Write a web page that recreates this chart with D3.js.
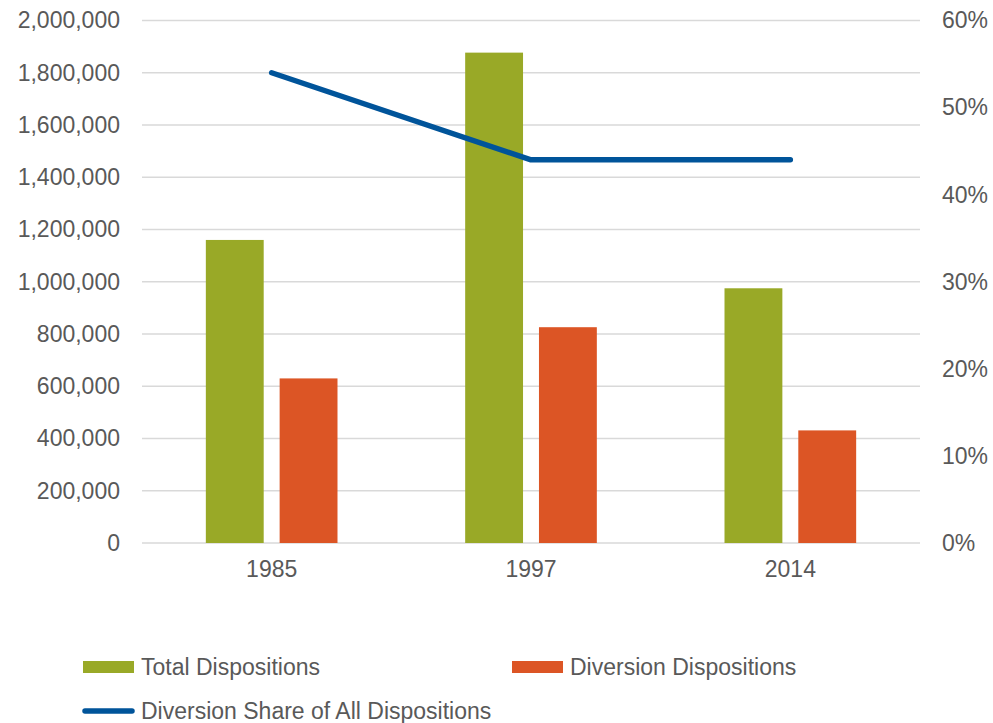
<!DOCTYPE html>
<html>
<head>
<meta charset="utf-8">
<script src="https://cdn.jsdelivr.net/npm/d3@7"></script>
<style>
  body { margin: 0; background: #fff; }
  text { font-family: "Liberation Sans", Arial, sans-serif; fill: #595959; }
</style>
</head>
<body>
<svg id="chart"></svg>
<script>
const years = ["1985", "1997", "2014"];
const totalDispositions = [1160000, 1877000, 975000];
const diversionDispositions = [630000, 826000, 431000];
const diversionShare = [0.54, 0.44, 0.44];
const leftTicks = [0, 200000, 400000, 600000, 800000, 1000000, 1200000, 1400000, 1600000, 1800000, 2000000];
const rightTicks = [0, 0.1, 0.2, 0.3, 0.4, 0.5, 0.6];
const seriesNames = ["Total Dispositions", "Diversion Dispositions", "Diversion Share of All Dispositions"];

const width = 993, height = 723;
const plotLeft = 142, plotRight = 920, plotTop = 20.5, plotBottom = 543;
const fontSize = 23;
const colors = ["#99a927", "#dc5525", "#00549a"];

const svg = d3.select("#chart").attr("width", width).attr("height", height);

const x0 = d3.scaleBand().domain(years).range([plotLeft, plotRight]);
const x1 = d3.scaleBand().domain([0, 1]).range([0, x0.bandwidth()])
  .paddingInner(0.216).paddingOuter(0.865);
const y = d3.scaleLinear().domain([0, 2000000]).range([plotBottom, plotTop]);
const y2 = d3.scaleLinear().domain([0, 0.6]).range([plotBottom, plotTop]);

// gridlines
svg.append("g")
  .selectAll("line")
  .data(leftTicks).enter()
  .append("line")
    .attr("x1", plotLeft).attr("x2", plotRight)
    .attr("y1", d => y(d)).attr("y2", d => y(d))
    .attr("stroke", "#d9d9d9")
    .attr("stroke-width", 1.3);

function styleAxis(g) {
  g.select(".domain").remove();
  g.selectAll("text")
    .style("font-size", fontSize + "px")
    .style("font-family", "'Liberation Sans', Arial, sans-serif")
    .attr("fill", "#595959");
}

// left axis
svg.append("g")
  .attr("transform", `translate(${plotLeft},0)`)
  .call(d3.axisLeft(y).tickValues(leftTicks).tickFormat(d3.format(",")).tickSize(0).tickPadding(22))
  .call(styleAxis);

// right axis
svg.append("g")
  .attr("transform", `translate(${plotRight},0)`)
  .call(d3.axisRight(y2).tickValues(rightTicks).tickFormat(d3.format(".0%")).tickSize(0).tickPadding(22))
  .call(styleAxis);

// x axis
svg.append("g")
  .attr("transform", `translate(0,${plotBottom})`)
  .call(d3.axisBottom(x0).tickSize(0).tickPadding(18))
  .call(styleAxis);

// bars
const barData = years.map((yr, i) => ({ year: yr, values: [totalDispositions[i], diversionDispositions[i]] }));
const groups = svg.append("g").selectAll("g")
  .data(barData).enter()
  .append("g")
    .attr("transform", d => `translate(${x0(d.year)},0)`);
groups.selectAll("rect")
  .data(d => d.values.map((v, k) => ({ k, v }))).enter()
  .append("rect")
    .attr("x", d => x1(d.k))
    .attr("width", x1.bandwidth())
    .attr("y", d => y(d.v))
    .attr("height", d => y(0) - y(d.v))
    .attr("fill", d => colors[d.k]);

// line
const line = d3.line()
  .x((d, i) => x0(years[i]) + x0.bandwidth() / 2)
  .y(d => y2(d));
svg.append("path")
  .datum(diversionShare)
  .attr("d", line)
  .attr("fill", "none")
  .attr("stroke", colors[2])
  .attr("stroke-width", 5.5)
  .attr("stroke-linecap", "round")
  .attr("stroke-linejoin", "round");

// legend
const legendItems = [
  { name: seriesNames[0], type: "rect", x: 83, y: 667, color: colors[0] },
  { name: seriesNames[1], type: "rect", x: 512, y: 667, color: colors[1] },
  { name: seriesNames[2], type: "line", x: 83, y: 711, color: colors[2] }
];
const legend = svg.append("g").selectAll("g")
  .data(legendItems).enter()
  .append("g")
    .attr("transform", d => `translate(${d.x},${d.y})`);
legend.filter(d => d.type === "rect").append("rect")
  .attr("x", 0).attr("y", -6).attr("width", 51).attr("height", 12)
  .attr("fill", d => d.color);
legend.filter(d => d.type === "line").append("line")
  .attr("x1", 2).attr("x2", 49).attr("y1", 0).attr("y2", 0)
  .attr("stroke", d => d.color).attr("stroke-width", 5.5).attr("stroke-linecap", "round");
legend.append("text")
  .attr("x", 58).attr("y", 0).attr("dy", "0.35em")
  .style("font-size", fontSize + "px")
  .text(d => d.name);
</script>
</body>
</html>
